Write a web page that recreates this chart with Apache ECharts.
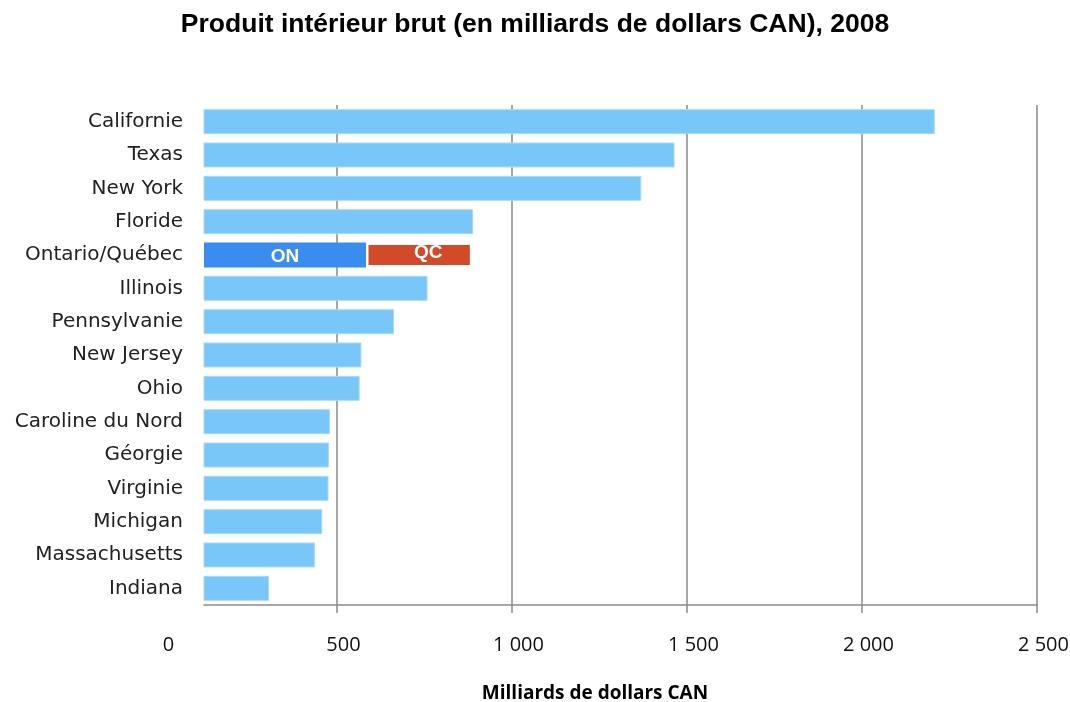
<!DOCTYPE html>
<html>
<head>
<meta charset="utf-8">
<script src="https://cdn.jsdelivr.net/npm/echarts@6/dist/echarts.min.js"></script>
<style>
  html, body { margin: 0; padding: 0; background: #fff; }
  #chart { width: 1070px; height: 702px; }
</style>
</head>
<body>
<div id="chart"></div>
<script>
// categories, top to bottom
var states = ['Californie', 'Texas', 'New York', 'Floride', 'Ontario/Québec', 'Illinois',
  'Pennsylvanie', 'New Jersey', 'Ohio', 'Caroline du Nord', 'Géorgie', 'Virginie',
  'Michigan', 'Massachusetts', 'Indiana'];
// PIB en milliards de $ CAN
var gdpStates = [2208, 1464, 1369, 888, null, 758, 662, 569, 564, 479, 476, 475, 457, 436, 305];
var gdpOntario = [null, null, null, null, 582, null, null, null, null, null, null, null, null, null, null];
var gdpQuebec = [null, null, null, null, 304, null, null, null, null, null, null, null, null, null, null];
var xTicks = [500, 1000, 1500, 2000, 2500];
var barStart = 119; // where the bars begin on the drawn scale

var chart = echarts.init(document.getElementById('chart'));

function fmt(v) {
  return String(v).replace(/\B(?=(\d{3})+(?!\d))/g, ' ');
}

option = {
  animation: false,
  title: {
    text: 'Produit intérieur brut (en milliards de dollars CAN), 2008',
    left: 'center',
    top: 6,
    textStyle: { fontFamily: 'Liberation Sans', fontSize: 26.5, fontWeight: 'bold', color: '#000' }
  },
  grid: [
    { left: 162, right: 33, top: 105, bottom: 97, outerBoundsMode: 'none' },
    { left: 204, right: 33, top: 105, bottom: 97, outerBoundsMode: 'none' }
  ],
  xAxis: [
    {
      gridIndex: 0,
      type: 'value',
      min: 0,
      max: 2500,
      interval: 500,
      name: 'Milliards de dollars CAN',
      nameLocation: 'middle',
      nameGap: 79,
      nameTextStyle: { fontFamily: 'Open Sans', fontSize: 19, fontWeight: 'bold', color: '#000', padding: [0, 9, 0, 0] },
      axisLine: { show: false },
      axisTick: { show: true, length: 8, customValues: xTicks, lineStyle: { color: '#8a8a8a', width: 1.5 } },
      axisLabel: { margin: 30, fontFamily: 'Open Sans', fontSize: 20, color: '#111', padding: [0, 0, 0, 13], formatter: fmt },
      splitLine: { show: true, lineStyle: { color: '#8a8a8a', width: 1.5 } }
    },
    {
      gridIndex: 1,
      type: 'value',
      min: barStart,
      max: 2500,
      axisLine: { show: true, lineStyle: { color: '#8a8a8a', width: 1.5 } },
      axisTick: { show: false },
      axisLabel: { show: false },
      splitLine: { show: false }
    }
  ],
  yAxis: [
    {
      gridIndex: 0,
      type: 'category',
      data: states,
      inverse: true,
      show: false
    },
    {
      gridIndex: 1,
      type: 'category',
      data: states,
      inverse: true,
      axisLine: { show: false },
      axisTick: { show: false },
      axisLabel: { margin: 21, fontFamily: 'DejaVu Sans', fontSize: 20, color: '#222' }
    }
  ],
  series: [
    {
      name: 'États',
      type: 'bar',
      xAxisIndex: 1,
      yAxisIndex: 1,
      stack: 'pib',
      barWidth: 25,
      data: gdpStates,
      itemStyle: { color: '#79c7f8', borderColor: '#a6dbfb', borderWidth: 1 }
    },
    {
      name: 'Ontario',
      type: 'bar',
      xAxisIndex: 1,
      yAxisIndex: 1,
      stack: 'pib',
      data: gdpOntario,
      itemStyle: { color: '#3a8cee' },
      label: {
        show: true, position: 'inside', formatter: 'ON', offset: [0, 2],
        fontFamily: 'Liberation Sans', fontSize: 19, fontWeight: 'bold', color: '#fff'
      }
    },
    {
      name: 'Québec',
      type: 'bar',
      xAxisIndex: 1,
      yAxisIndex: 1,
      stack: 'pib',
      data: gdpQuebec,
      itemStyle: { color: '#d24a27', borderColor: '#fff', borderWidth: 2.5 },
      label: {
        show: true, position: 'inside', formatter: 'QC', offset: [9, -2],
        fontFamily: 'Liberation Sans', fontSize: 19, fontWeight: 'bold', color: '#fff'
      }
    }
  ]
};
chart.setOption(option);
</script>
</body>
</html>
